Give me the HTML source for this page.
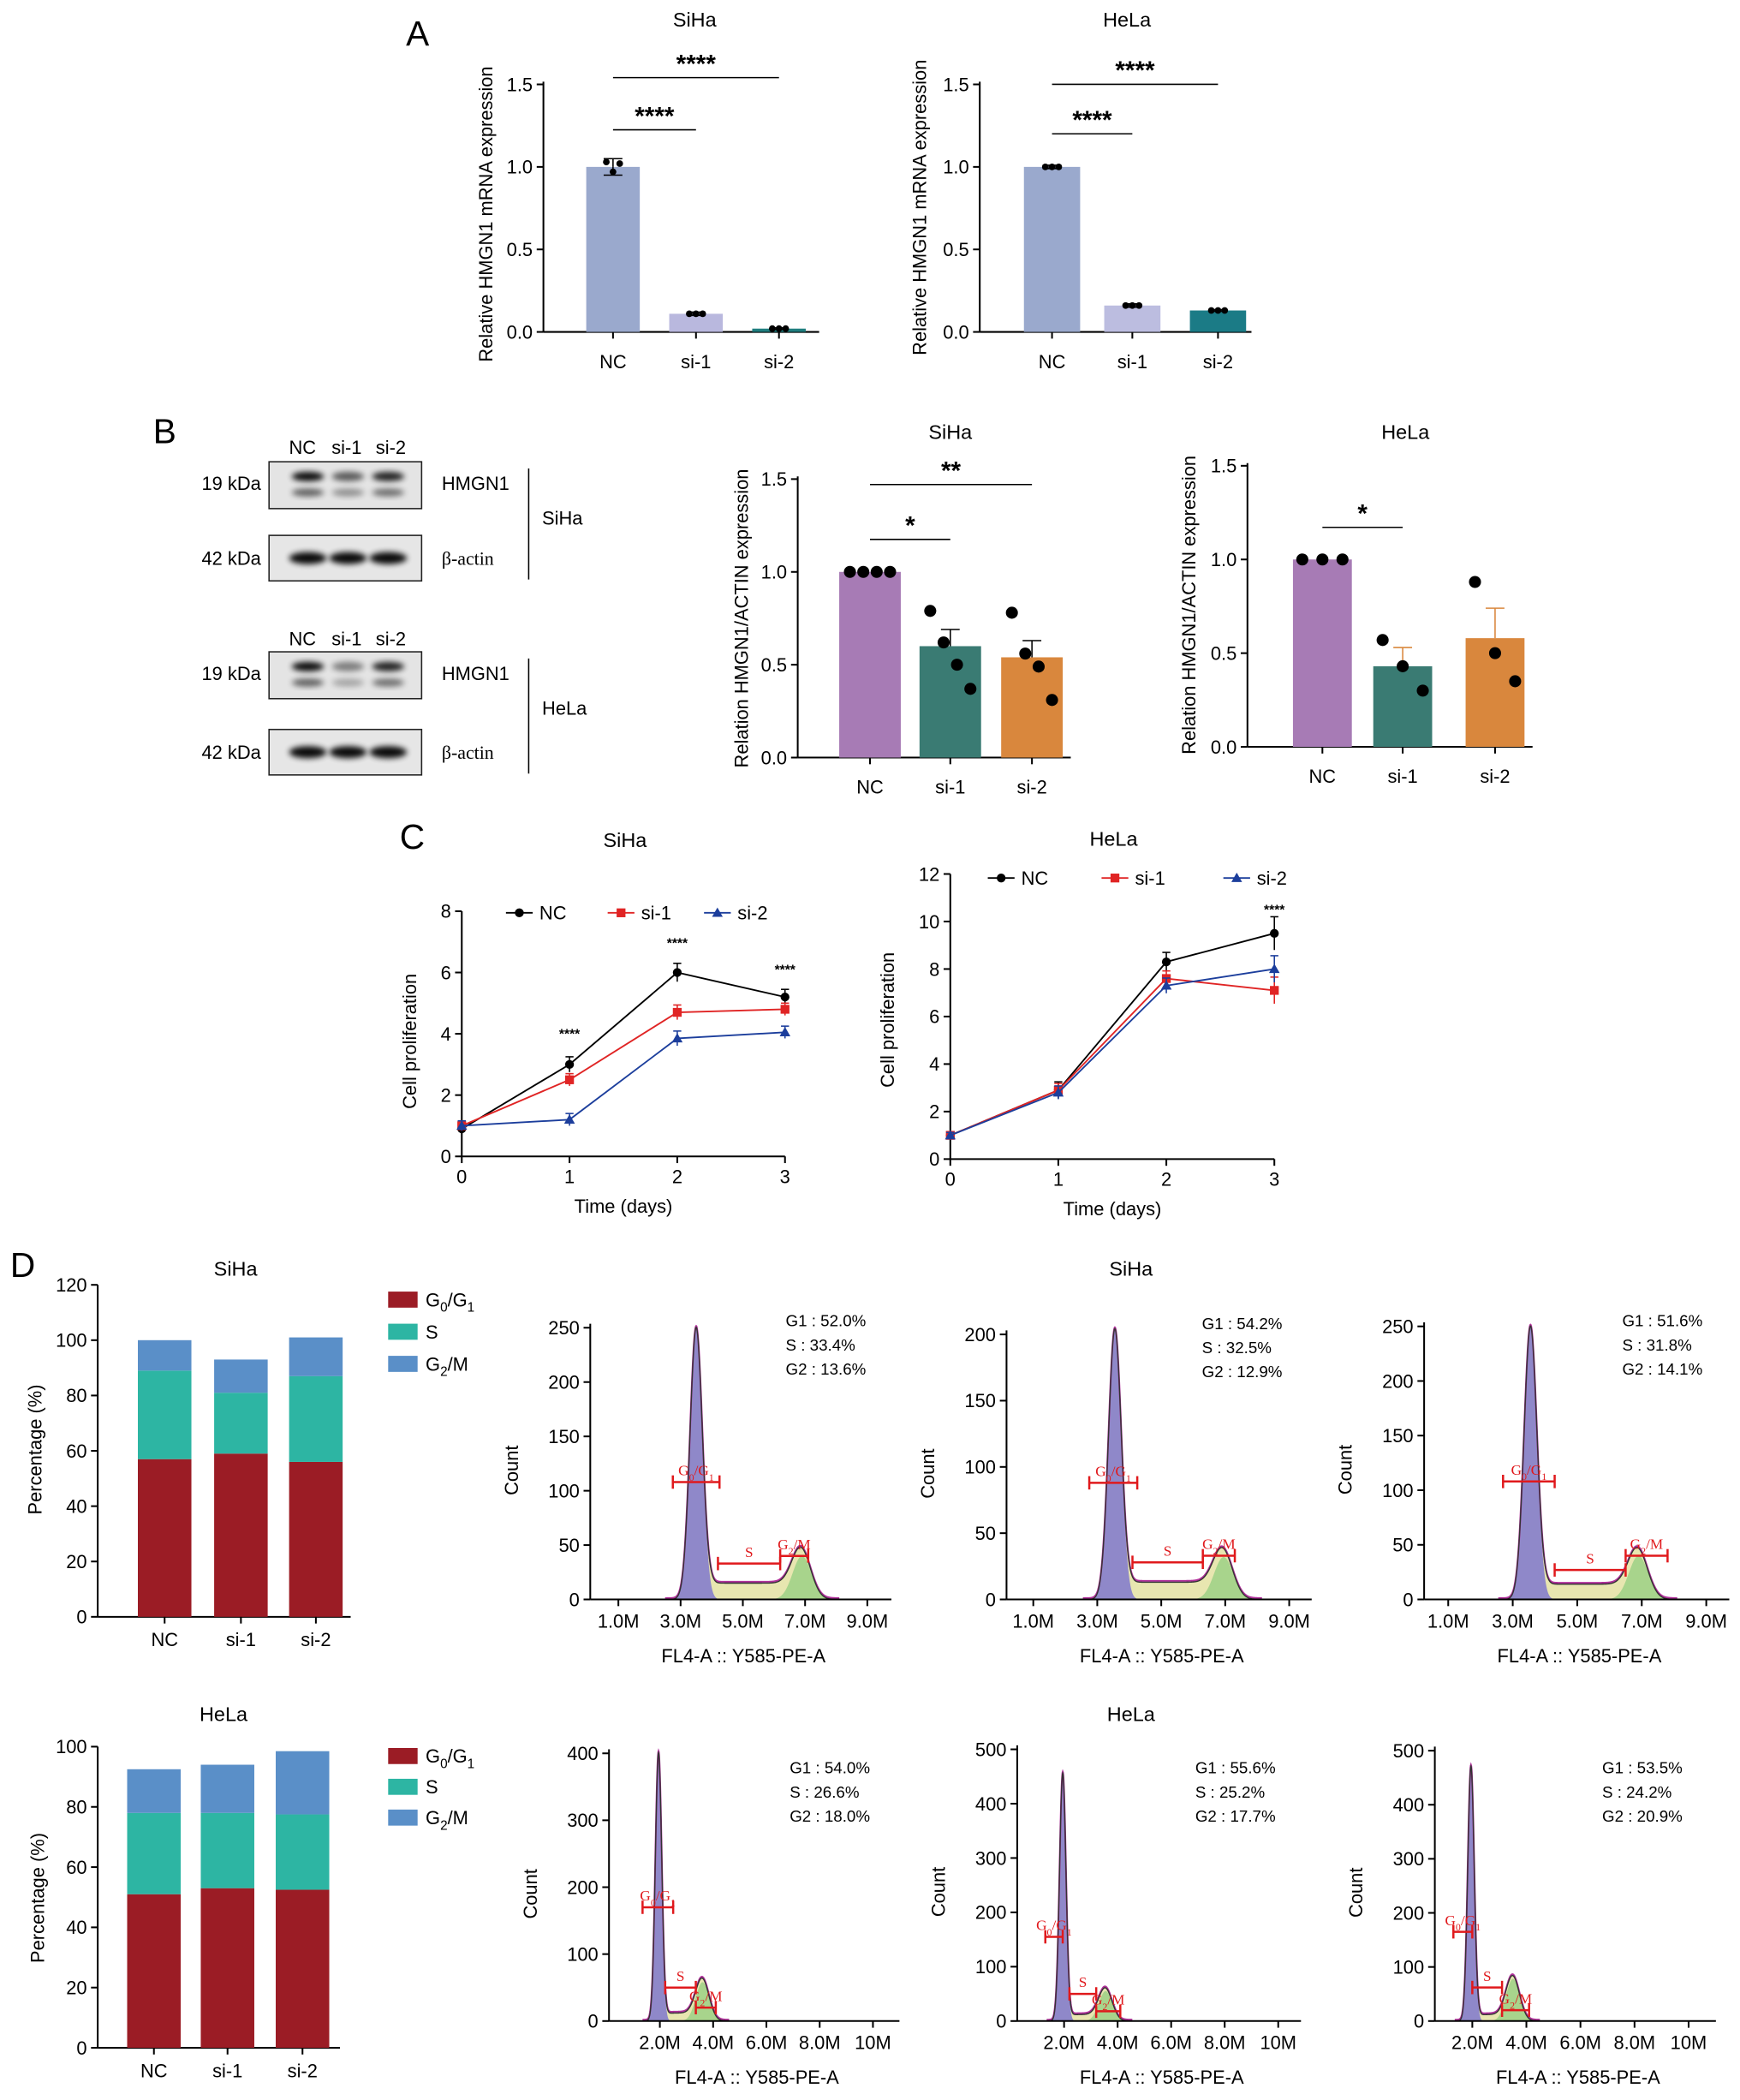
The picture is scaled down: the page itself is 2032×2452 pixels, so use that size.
<!DOCTYPE html>
<html><head><meta charset="utf-8"><title>HMGN1 knockdown figure</title>
<style>
html,body{margin:0;padding:0;background:#fff;}
svg{display:block;font-family:"Liberation Sans",Arial,sans-serif;}
</style></head>
<body>
<svg id="fig" xmlns="http://www.w3.org/2000/svg" width="2032" height="2452" viewBox="0 0 1300 1569" preserveAspectRatio="none">
<defs><filter id="blur" x="-50%" y="-50%" width="200%" height="200%"><feGaussianBlur stdDeviation="2.2"/></filter></defs>
<rect x="0" y="0" width="1300" height="1569" fill="#fff"/>
</svg>
<script>
// ---------- DATA ----------
const barCats=['NC','si-1','si-2'];
const aSiHaVals=[1.0,0.11,0.02];
const aSiHaErr=[0.05,0.01,0.005];
const aSiHaPts=[[1.03,0.97,1.02],[0.11,0.11,0.11],[0.02,0.02,0.02]];
const aHeLaVals=[1.0,0.16,0.13];
const aHeLaErr=[0.01,0.01,0.005];
const aHeLaPts=[[1.0,1.0,1.0],[0.16,0.16,0.16],[0.13,0.13,0.13]];
const bSiHaVals=[1.0,0.6,0.54];
const bSiHaErr=[0.0,0.09,0.09];
const bSiHaPts=[[1,1,1,1],[0.79,0.62,0.5,0.37],[0.78,0.56,0.49,0.31]];
const bHeLaVals=[1.0,0.43,0.58];
const bHeLaErr=[0.0,0.1,0.16];
const bHeLaPts=[[1,1,1],[0.57,0.43,0.3],[0.88,0.5,0.35]];
const days=[0,1,2,3];
const cSiHaNC=[0.9,3.0,6.0,5.2], cSiHaSi1=[1.0,2.5,4.7,4.8], cSiHaSi2=[1.0,1.2,3.85,4.05];
const cSiHaErr=[0.2,0.25,0.3,0.25];
const cHeLaNC=[1.0,2.9,8.3,9.5], cHeLaSi1=[1.0,2.9,7.6,7.1], cHeLaSi2=[1.0,2.8,7.3,8.0];
const cHeLaErr=[0.15,0.35,0.4,0.7];
const dSiHaG1=[57,59,56], dSiHaS=[32,22,31], dSiHaG2=[11,12,14];
const dHeLaG1=[51,53,52.5], dHeLaS=[27,25,25], dHeLaG2=[14.5,16,21];
const flowG1Pos=[3.5,3.55,3.55,1.95,1.95,1.95];
const flowG1Height=[250,204,250,400,455,470];
const flowG2Pos=[6.9,6.95,6.9,3.6,3.55,3.5];
const flowG2Height=[40,32,40,58,55,78];
const flowSLevel=[15,13,14,12,12,12];
const flowStats=[['52.0%','33.4%','13.6%'],['54.2%','32.5%','12.9%'],['51.6%','31.8%','14.1%'],['54.0%','26.6%','18.0%'],['55.6%','25.2%','17.7%'],['53.5%','24.2%','20.9%']];

// ---------- HELPERS ----------
const NS='http://www.w3.org/2000/svg';
const svgRoot=document.getElementById('fig');
function mk(tag,attrs,name,parent){
  const el=document.createElementNS(NS,tag);
  for(const k in attrs) el.setAttribute(k,attrs[k]);
  
  
  (parent||svgRoot).appendChild(el);return el;
}
function T(x,y,s,name,o){const el=mk('text',Object.assign({x:x,y:y,'font-size':14,'text-anchor':'middle',fill:'#000'},o||{}),name);el.textContent=s;return el;}
function L(x1,y1,x2,y2,name,o){return mk('line',Object.assign({x1:x1,y1:y1,x2:x2,y2:y2,stroke:'#000','stroke-width':1.3},o||{}),name);}
function sub(el,parts){
  el.textContent='';
  parts.forEach(function(p){const t=document.createElementNS(NS,'tspan');t.textContent=p[0];
    if(p[1]){t.setAttribute('font-size','0.7em');t.setAttribute('dy','4');} else if(el.childNodes.length){t.setAttribute('dy','-4');}
    el.appendChild(t);});
}
function yAxis(ax,y0,unit,ticks,labels,top,name,fs){
  L(ax,y0,ax,top,name+'-line');
  ticks.forEach(function(v,i){const y=y0-v*unit;L(ax-5,y,ax,y,name+'-tick');T(ax-8,y+5,labels[i],name+'-tick-label',{'text-anchor':'end','font-size':fs||14});});
}
function rotLabel(x,y,s,name,fs){return T(x,y,s,name,{transform:'rotate(-90 '+x+' '+y+')','font-size':fs||14});}

// ---------- PANEL LETTERS ----------
T(312,34,'A','panel-label-a',{'font-size':26});
T(123,331,'B','panel-label-b',{'font-size':26});
T(308,634,'C','panel-label-c',{'font-size':26});
T(17,954,'D','panel-label-d',{'font-size':26});

// ---------- BAR CHARTS ----------
function barChart(c,vals,errs,pts,colors,name){
  T(c.tx,c.ty,c.title,name+'-title',{'font-size':15});
  rotLabel(c.ylx,c.ylc,c.ylab,name+'-y-axis-title',14);
  yAxis(c.ax,c.y0,c.unit,[0,0.5,1.0,1.5],['0.0','0.5','1.0','1.5'],c.y0-1.5*c.unit-2,name+'-y-axis');
  L(c.ax,c.y0,c.xEnd,c.y0,name+'-x-axis');
  vals.forEach(function(v,i){
    const x=c.xs[i],yv=c.y0-v*c.unit;
    mk('rect',{x:x-c.w/2,y:yv,width:c.w,height:v*c.unit,fill:colors[i]},name+'-bar-'+barCats[i]);
    L(x,c.y0,x,c.y0+5,name+'-x-tick');
    T(x,c.y0+27,barCats[i],name+'-x-label',{'font-size':14});
    if(errs[i]>0){const ye=yv-errs[i]*c.unit;
      L(x,yv,x,ye,name+'-error-bar',{stroke:c.ec||'#000','stroke-width':1});L(x-7,ye,x+7,ye,name+'-error-cap',{stroke:c.ec||'#000','stroke-width':1});
      if(c.both){const yl=yv+errs[i]*c.unit;L(x,yv,x,yl,name+'-error-bar',{'stroke-width':1});L(x-7,yl,x+7,yl,name+'-error-cap',{'stroke-width':1});}}
    const n=pts[i].length;
    pts[i].forEach(function(p,j){
      let dx=0;
      if(c.spread){dx=(j-(n-1)/2)*c.spread;} else if(c.jit){dx=c.jit[j%c.jit.length];}
      mk('circle',{cx:x+dx,cy:c.y0-p*c.unit,r:c.r,fill:'#000'},name+'-point');
    });
  });
  c.sig.forEach(function(s){const y=s[2];L(c.xs[s[0]],y,c.xs[s[1]],y,name+'-sig-line',{'stroke-width':1});
    T((c.xs[s[0]]+c.xs[s[1]])/2,y-4,s[3],name+'-sig-stars',{'font-size':19,'font-weight':'bold'});});
}
try{
barChart({ax:406,y0:248,unit:123.3,xs:[458,520,582],w:40,xEnd:612,title:'SiHa',tx:519,ty:20,ylab:'Relative HMGN1 mRNA expression',ylx:368,ylc:160,r:2.5,jit:[-5,0,5],both:true,
  sig:[[0,1,97,'****'],[0,2,58,'****']]},aSiHaVals,aSiHaErr,aSiHaPts,['#9aa9cd','#b9b8de','#1f7d7e'],'a-siha-chart');
barChart({ax:732,y0:248,unit:123.3,xs:[786,846,910],w:42,xEnd:935,title:'HeLa',tx:842,ty:20,ylab:'Relative HMGN1 mRNA expression',ylx:692,ylc:155,r:2.5,jit:[-5,0,5],both:true,
  sig:[[0,1,100,'****'],[0,2,63,'****']]},aHeLaVals,aHeLaErr,aHeLaPts,['#9aa9cd','#bcbde0','#1b7b86'],'a-hela-chart');
barChart({ax:596,y0:566,unit:138.7,xs:[650,710,771],w:46,xEnd:800,title:'SiHa',tx:710,ty:328,ylab:'Relation HMGN1/ACTIN expression',ylx:559,ylc:462,r:4.5,spread:10,ec:'#000',
  sig:[[0,1,403,'*'],[0,2,362,'**']]},bSiHaVals,bSiHaErr,bSiHaPts,['#a77bb5','#3a7b73','#d9873d'],'b-siha-chart');
barChart({ax:932,y0:558,unit:140,xs:[988,1048,1117],w:44,xEnd:1145,title:'HeLa',tx:1050,ty:328,ylab:'Relation HMGN1/ACTIN expression',ylx:893,ylc:452,r:4.5,spread:15,ec:'#d9873d',
  sig:[[0,1,394,'*']]},bHeLaVals,bHeLaErr,bHeLaPts,['#a77bb5','#3a7b73','#d9873d'],'b-hela-chart');
}catch(e){console.error(e);}

// ---------- WESTERN BLOTS ----------
function blot(y,lanesY,cell,hmgnInt,y2off,name){
  [226,259,292].forEach(function(x,i){T(x,lanesY,barCats[i],name+'-lane-label',{'font-size':14});});
  mk('rect',{x:201,y:y,width:114,height:35,fill:'#e4e4e4',stroke:'#222','stroke-width':1},name+'-hmgn1-blot');
  mk('rect',{x:201,y:y+y2off,width:114,height:34,fill:'#e6e6e6',stroke:'#222','stroke-width':1},name+'-actin-blot');
  [230,260,290].forEach(function(x,i){
    mk('ellipse',{cx:x,cy:y+11,rx:12,ry:3.5,fill:'#000',opacity:hmgnInt[i],filter:'url(#blur)'},name+'-hmgn1-band');
    mk('ellipse',{cx:x,cy:y+23,rx:12,ry:3,fill:'#000',opacity:hmgnInt[i]*0.6,filter:'url(#blur)'},name+'-hmgn1-band-lower');
    mk('ellipse',{cx:x,cy:y+y2off+17,rx:14,ry:4.5,fill:'#000',opacity:0.95,filter:'url(#blur)'},name+'-actin-band');
  });
  T(195,y+21,'19 kDa',name+'-kda-19',{'text-anchor':'end','font-size':14});
  T(195,y+y2off+22,'42 kDa',name+'-kda-42',{'text-anchor':'end','font-size':14});
  T(330,y+21,'HMGN1',name+'-hmgn1-label',{'text-anchor':'start','font-size':14});
  T(330,y+y2off+22,'β-actin',name+'-actin-label',{'text-anchor':'start','font-size':14,'font-family':'Liberation Serif, serif'});
  L(395,y+5,395,y+y2off+33,name+'-bracket',{'stroke-width':1});
  T(405,y+47,cell,name+'-cell-label',{'text-anchor':'start','font-size':14});
}
try{
blot(345,339,'SiHa',[0.95,0.6,0.85],55,'blot-siha');
blot(487,482,'HeLa',[0.95,0.45,0.85],58,'blot-hela');
}catch(e){console.error(e);}

// ---------- LINE CHARTS ----------
function marker(type,x,y,color,name){
  if(type==='c') mk('circle',{cx:x,cy:y,r:3.3,fill:color},name);
  else if(type==='s') mk('rect',{x:x-3.3,y:y-3.3,width:6.6,height:6.6,fill:color},name);
  else mk('polygon',{points:x+','+(y-4)+' '+(x-4)+','+(y+3)+' '+(x+4)+','+(y+3),fill:color},name);
}
function lineChart(c,series,errs,name){
  T(c.tx,c.ty,c.title,name+'-title',{'font-size':15});
  rotLabel(c.ylx,c.ylc,'Cell proliferation',name+'-y-axis-title',14);
  const tk=[];for(let v=0;v<=c.ymax;v+=2)tk.push(v);
  yAxis(c.ax,c.y0,c.unit,tk,tk.map(String),c.y0-c.ymax*c.unit,name+'-y-axis');
  const X=function(d){return c.ax+d*c.dx;};
  L(c.ax,c.y0,X(3),c.y0,name+'-x-axis');
  days.forEach(function(d){L(X(d),c.y0,X(d),c.y0+5,name+'-x-tick');T(X(d),c.y0+20,String(d),name+'-x-tick-label');});
  T((c.ax+X(3))/2,c.y0+42,'Time (days)',name+'-x-axis-title',{'font-size':14});
  const styles=[['c','#000','NC'],['s','#e02424','si-1'],['t','#1c3e9c','si-2']];
  series.forEach(function(s,k){
    const st=styles[k];
    mk('polyline',{points:s.map(function(v,i){return X(days[i])+','+(c.y0-v*c.unit);}).join(' '),fill:'none',stroke:st[1],'stroke-width':1.2},name+'-line-'+st[2]);
    s.forEach(function(v,i){const y=c.y0-v*c.unit,e=errs[i]*c.unit*(k===0?1:0.8);
      L(X(days[i]),y-e,X(days[i]),y+e,name+'-error-bar',{stroke:st[1],'stroke-width':1});
      L(X(days[i])-3,y-e,X(days[i])+3,y-e,name+'-error-cap',{stroke:st[1],'stroke-width':1});
      marker(st[0],X(days[i]),y,st[1],name+'-point-'+st[2]);});
    const lx=c.lx[k];
    L(lx,c.ly,lx+20,c.ly,name+'-legend-line',{stroke:st[1],'stroke-width':1.2});
    marker(st[0],lx+10,c.ly,st[1],name+'-legend-marker');
    T(lx+25,c.ly+5,st[2],name+'-legend-label',{'text-anchor':'start','font-size':14});
  });
  c.stars.forEach(function(s){T(X(s[0]),s[1],'****',name+'-sig-stars',{'font-size':10,'font-weight':'bold'});});
}
try{
lineChart({ax:345,y0:864,unit:22.9,ymax:8,dx:80.5,tx:467,ty:633,title:'SiHa',ylx:311,ylc:778,ly:682,lx:[378,454,526],stars:[[1,776],[2,708],[3,728]]},
  [cSiHaNC,cSiHaSi1,cSiHaSi2],cSiHaErr,'c-siha-chart');
lineChart({ax:710,y0:866,unit:17.75,ymax:12,dx:80.7,tx:832,ty:632,title:'HeLa',ylx:668,ylc:762,ly:656,lx:[738,823,914],stars:[[3,683]]},
  [cHeLaNC,cHeLaSi1,cHeLaSi2],cHeLaErr,'c-hela-chart');
}catch(e){console.error(e);}

// ---------- STACKED BARS ----------
function stacked(c,g1,s,g2,name){
  T(c.tx,c.ty,c.title,name+'-title',{'font-size':15});
  rotLabel(c.ylx,c.ylc,'Percentage (%)',name+'-y-axis-title',14);
  const tk=[];for(let v=0;v<=c.ymax;v+=20)tk.push(v);
  yAxis(c.ax,c.y0,c.unit,tk,tk.map(String),c.y0-c.ymax*c.unit,name+'-y-axis');
  L(c.ax,c.y0,c.xEnd,c.y0,name+'-x-axis');
  const cols=['#9b1c25','#2db5a3','#5a8fc8'];
  const segNames=['g0g1','s','g2m'];
  barCats.forEach(function(cat,i){
    const x=c.xs[i];let base=0;
    [g1[i],s[i],g2[i]].forEach(function(v,k){
      mk('rect',{x:x-20,y:c.y0-(base+v)*c.unit,width:40,height:v*c.unit,fill:cols[k]},name+'-bar-'+cat+'-'+segNames[k]);base+=v;});
    L(x,c.y0,x,c.y0+5,name+'-x-tick');
    T(x,c.y0+22,cat,name+'-x-label');
  });
  const labs=[[['G',0],['0',1],['/G',0],['1',1]],[['S',0]],[['G',0],['2',1],['/M',0]]];
  c.ly.forEach(function(y,k){mk('rect',{x:290,y:y-6,width:22,height:12,fill:cols[k]},name+'-legend-swatch');
    const t=T(318,y+5,'',name+'-legend-label',{'text-anchor':'start','font-size':14});sub(t,labs[k]);});
}
try{
stacked({ax:73,y0:1208,unit:2.067,ymax:120,xs:[123,180,236],xEnd:262,tx:176,ty:953,title:'SiHa',ylx:31,ylc:1083,ly:[971,995,1019]},dSiHaG1,dSiHaS,dSiHaG2,'d-siha-stacked');
stacked({ax:73,y0:1530,unit:2.25,ymax:100,xs:[115,170,226],xEnd:254,tx:167,ty:1286,title:'HeLa',ylx:33,ylc:1418,ly:[1312,1335,1358]},dHeLaG1,dHeLaS,dHeLaG2,'d-hela-stacked');
}catch(e){console.error(e);}
T(845,953,'SiHa','d-flow-siha-title',{'font-size':15});
T(845,1286,'HeLa','d-flow-hela-title',{'font-size':15});

// ---------- FLOW HISTOGRAMS ----------
function flow(i,c,name){
  const X=function(m){return c.x1+(m-c.m1)*c.pxm;}, Y=function(v){return c.y0-v*c.yu;};
  const axX=c.ax;
  const g1=flowG1Pos[i],h1=flowG1Height[i],g2=flowG2Pos[i],h2=flowG2Height[i],sl=flowSLevel[i];
  const sd1=c.sd1,sd2=c.sd2;
  const gauss=function(m,mu,sd,h){const z=(m-mu)/sd;return h*Math.exp(-0.5*z*z);};
  const sPart=function(m){return sl/(1+Math.exp(-(m-(g1+sd1*1.5))/0.08))/(1+Math.exp((m-g2)/0.15));};
  const start=g1-sd1*5,end=g2+sd2*4;
  const ms=[];for(let m=start;m<=end;m+=0.01)ms.push(m);
  const tot=function(m){return gauss(m,g1,sd1,h1)+sPart(m)+gauss(m,g2,sd2,h2);};
  const poly=function(f){return X(start)+','+Y(0)+' '+ms.map(function(m){return X(m)+','+Y(f(m));}).join(' ')+' '+X(end)+','+Y(0);};
  mk('polygon',{points:poly(tot),fill:'#e8e6b0'},name+'-s-phase-fill');
  mk('polygon',{points:poly(function(m){return gauss(m,g1,sd1,h1);}),fill:'#8f88c9'},name+'-g1-fill');
  mk('polygon',{points:poly(function(m){return gauss(m,g2,sd2,h2);}),fill:'#a8d48c'},name+'-g2-fill');
  mk('polyline',{points:ms.map(function(m){return X(m)+','+(Y(tot(m))-1);}).join(' '),fill:'none',stroke:'#b0309a','stroke-width':1.3},name+'-fit-line');
  mk('polyline',{points:ms.map(function(m){return X(m)+','+Y(tot(m));}).join(' '),fill:'none',stroke:'#333','stroke-width':0.9},name+'-histogram-line');
  L(axX,c.y0,axX,Y(c.ymax)-3,name+'-y-axis');
  L(axX,c.y0,c.xEnd,c.y0,name+'-x-axis');
  for(let v=0;v<=c.ymax;v+=c.ystep){L(axX-5,Y(v),axX,Y(v),name+'-y-tick');T(axX-8,Y(v)+5,String(v),name+'-y-tick-label',{'text-anchor':'end','font-size':14});}
  c.xt.forEach(function(m,k){L(X(m),c.y0,X(m),c.y0+5,name+'-x-tick');T(X(m),c.y0+21,c.xl[k],name+'-x-tick-label',{'font-size':14});});
  T((axX+c.xEnd)/2+2,c.y0+47,'FL4-A :: Y585-PE-A',name+'-x-axis-title',{'font-size':14});
  rotLabel(axX-54,(c.y0+Y(c.ymax))/2+5,'Count',name+'-y-axis-title',14);
  const st=flowStats[i];
  ['G1 : ','S : ','G2 : '].forEach(function(p,k){T(c.sx,c.sy+k*18,p+st[k],name+'-stat-'+['g1','s','g2'][k],{'text-anchor':'start','font-size':12});});
  const red='#e0191c';
  const gateLabs=[[['G',0],['0',1],['/G',0],['1',1]],[['S',0]],[['G',0],['2',1],['/M',0]]];
  c.gates.forEach(function(g,k){
    const y=Y(g[2]);L(X(g[0]),y,X(g[1]),y,name+'-gate-'+k,{stroke:red,'stroke-width':1.6});
    L(X(g[0]),y-5,X(g[0]),y+5,name+'-gate-cap',{stroke:red,'stroke-width':1.6});
    L(X(g[1]),y-5,X(g[1]),y+5,name+'-gate-cap',{stroke:red,'stroke-width':1.6});
    const t=T((X(g[0])+X(g[1]))/2,y-5,'',name+'-gate-label',{'font-size':11,fill:red,'font-family':'Liberation Serif, serif'});
    sub(t,gateLabs[k]);
  });
}
const topXt=[1,3,5,7,9],topXl=['1.0M','3.0M','5.0M','7.0M','9.0M'];
const botXt=[2,4,6,8,10],botXl=['2.0M','4.0M','6.0M','8.0M','10M'];
try{
flow(0,{ax:441,x1:462,m1:1,pxm:23.25,xEnd:666,y0:1195,yu:0.812,ymax:250,ystep:50,xt:topXt,xl:topXl,sx:587,sy:991,sd1:0.2,sd2:0.3,gates:[[2.75,4.25,108],[4.2,6.2,33],[6.2,7.1,40]]},'d-flow-siha-nc');
flow(1,{ax:752,x1:772,m1:1,pxm:23.9,xEnd:980,y0:1195,yu:0.99,ymax:200,ystep:50,xt:topXt,xl:topXl,sx:898,sy:993,sd1:0.2,sd2:0.3,gates:[[2.75,4.25,88],[4.1,6.3,28],[6.3,7.3,33]]},'d-flow-siha-si1');
flow(2,{ax:1064,x1:1082,m1:1,pxm:24.1,xEnd:1292,y0:1195,yu:0.816,ymax:250,ystep:50,xt:topXt,xl:topXl,sx:1212,sy:991,sd1:0.2,sd2:0.3,gates:[[2.7,4.3,108],[4.3,6.5,27],[6.5,7.8,40]]},'d-flow-siha-si2');
flow(3,{ax:455,x1:493,m1:2,pxm:19.9,xEnd:672,y0:1510,yu:0.5,ymax:400,ystep:100,xt:botXt,xl:botXl,sx:590,sy:1325,sd1:0.12,sd2:0.25,gates:[[1.35,2.5,170],[2.2,3.35,50],[3.35,4.1,20]]},'d-flow-hela-nc');
flow(4,{ax:760,x1:795,m1:2,pxm:20,xEnd:972,y0:1510,yu:0.406,ymax:500,ystep:100,xt:botXt,xl:botXl,sx:893,sy:1325,sd1:0.12,sd2:0.25,gates:[[1.3,1.95,155],[2.2,3.2,50],[3.2,4.1,18]]},'d-flow-hela-si1');
flow(5,{ax:1072,x1:1100,m1:2,pxm:20.2,xEnd:1282,y0:1510,yu:0.404,ymax:500,ystep:100,xt:botXt,xl:botXl,sx:1197,sy:1325,sd1:0.12,sd2:0.25,gates:[[1.3,2.0,165],[2.0,3.1,62],[3.1,4.1,20]]},'d-flow-hela-si2');
}catch(e){console.error(e);}
</script>
</body></html>
